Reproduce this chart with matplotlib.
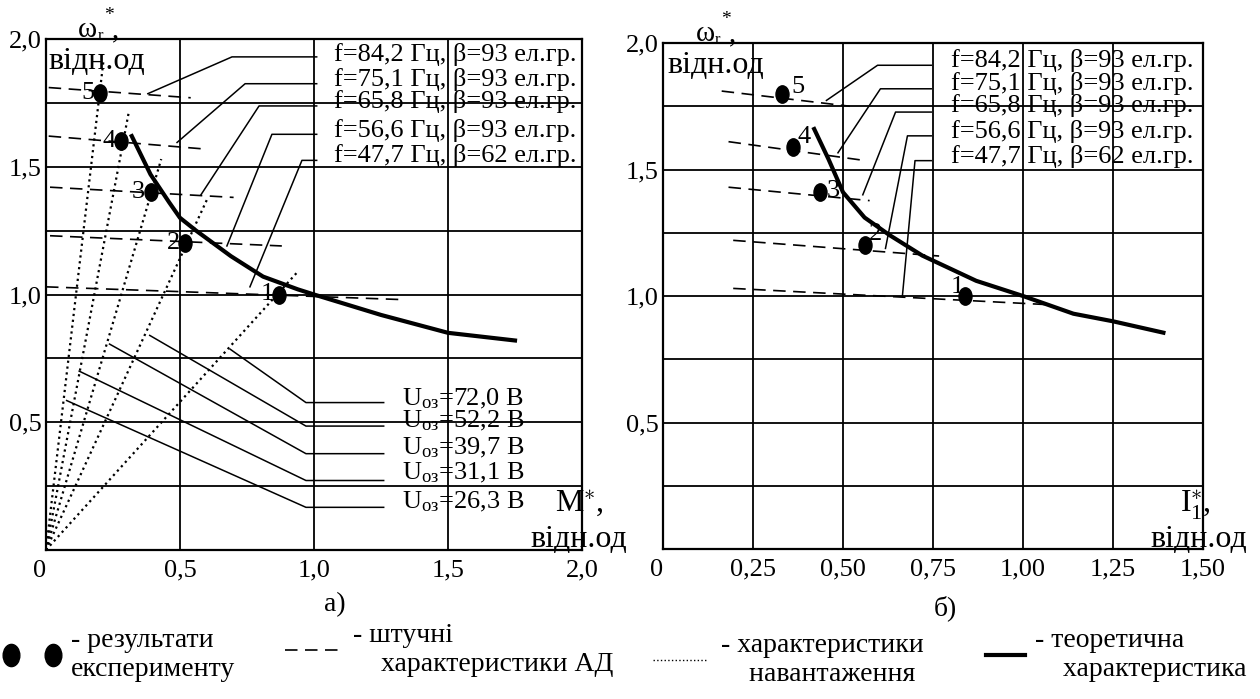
import numpy as np
import matplotlib
matplotlib.use("Agg")
import matplotlib.pyplot as plt
from matplotlib.path import Path
from matplotlib.lines import Line2D

plt.rcParams["font.family"] = ["Liberation Serif", "DejaVu Serif"]
plt.rcParams["mathtext.fontset"] = "custom"
plt.rcParams["mathtext.rm"] = "Liberation Serif"
plt.rcParams["mathtext.it"] = "Liberation Serif:italic"
plt.rcParams["font.size"] = 19

# ---- дані (рисунок а: M*, рисунок б: I1*) ----
point_ids = ["1", "2", "3", "4", "5"]

# експериментальні точки
m_exp = [0.87, 0.52, 0.39, 0.28, 0.20]
w_exp_a = [1.00, 1.20, 1.40, 1.60, 1.79]
i_exp = [0.84, 0.56, 0.435, 0.36, 0.33]
w_exp_b = [1.00, 1.20, 1.41, 1.59, 1.80]

# штучні характеристики АД (пунктир), початок і кінець
art_m_start = [0.00, 0.015, 0.015, 0.01, 0.01]
art_m_end = [1.33, 0.88, 0.70, 0.585, 0.54]
art_w_start_a = [1.03, 1.23, 1.42, 1.62, 1.81]
art_w_end_a = [0.98, 1.19, 1.38, 1.57, 1.77]

art_i_start = [0.195, 0.195, 0.182, 0.182, 0.163]
art_i_end = [1.08, 0.767, 0.574, 0.563, 0.519]
art_w_start_b = [1.03, 1.22, 1.43, 1.61, 1.81]
art_w_end_b = [0.965, 1.158, 1.377, 1.535, 1.75]

# характеристики навантаження (з початку координат)
load_m_end = [0.94, 0.60, 0.43, 0.31, 0.215]
load_w_end = [1.09, 1.37, 1.53, 1.72, 1.92]

# теоретичні характеристики
theory_m = [0.32, 0.39, 0.46, 0.50, 0.56, 0.69, 0.81, 0.94, 1.00, 1.25, 1.50, 1.75]
theory_w_a = [1.62, 1.47, 1.36, 1.30, 1.25, 1.15, 1.07, 1.02, 1.00, 0.92, 0.85, 0.82]
theory_i = [0.42, 0.46, 0.50, 0.56, 0.63, 0.72, 0.87, 1.00, 1.14, 1.25, 1.39]
theory_w_b = [1.66, 1.54, 1.41, 1.31, 1.24, 1.16, 1.06, 1.00, 0.93, 0.90, 0.855]

# підписи частоти (зверху вниз: лінії 5..1)
freq_labels = ["f=84,2 Гц, β=93 ел.гр.", "f=75,1 Гц, β=93 ел.гр.",
               "f=65,8 Гц, β=93 ел.гр.", "f=56,6 Гц, β=93 ел.гр.",
               "f=47,7 Гц, β=62 ел.гр."]
text_w_a = [1.94, 1.84, 1.755, 1.64, 1.545]
lead_w_a = [1.93, 1.825, 1.738, 1.627, 1.525]
lead_knee_m = [0.694, 0.743, 0.795, 0.843, 0.955]
lead_end_m = [0.38, 0.489, 0.578, 0.675, 0.761]
lead_end_w_a = [1.786, 1.595, 1.39, 1.19, 1.03]

text_w_b = [1.93, 1.84, 1.754, 1.65, 1.55]
lead_w_b = [1.912, 1.819, 1.727, 1.633, 1.535]
lead_knee_i = [0.596, 0.604, 0.646, 0.679, 0.70]
lead_end_i = [0.454, 0.486, 0.555, 0.618, 0.665]
lead_end_w_b = [1.773, 1.566, 1.40, 1.188, 1.00]

# напруга збудження (лінії навантаження 1..5)
u_values = ["72,0", "52,2", "39,7", "31,1", "26,3"]
u_text_w = [0.593, 0.504, 0.40, 0.30, 0.19]
u_lead_w = [0.577, 0.485, 0.377, 0.272, 0.167]
u_end_m = [0.687, 0.387, 0.237, 0.124, 0.077]
u_end_w = [0.786, 0.84, 0.806, 0.70, 0.585]

circ = Path.unit_circle()
dot = Path(circ.vertices * np.array([0.75, 1.0]), circ.codes)
DASH = (7.5, 4.5)
BIG = 23

fig = plt.figure(figsize=(12.6, 6.99), dpi=100)
ax_a = fig.add_axes([46 / 1260, 149 / 699, 536 / 1260, 511 / 699])
ax_b = fig.add_axes([663 / 1260, 150 / 699, 540 / 1260, 506 / 699])


def omega_label(ax, xfrac):
    # ω з індексом r і зірочкою над віссю
    anchor = dict(xy=(xfrac, 1.0), xycoords="axes fraction",
                  textcoords="offset points", annotation_clip=False)
    ax.annotate("ω", xytext=(0, -3), va="bottom", ha="left", fontsize=21, **anchor)
    ax.annotate("r", xytext=(14, -3.5), va="bottom", ha="left", fontsize=12, **anchor)
    ax.annotate("*", xytext=(18.5, 11), va="bottom", ha="left", fontsize=14, **anchor)
    ax.annotate(",", xytext=(24, -3), va="bottom", ha="left", fontsize=21, **anchor)


def setup(ax, xmax, xticks, xlabels):
    ax.set_xlim(0, xmax)
    ax.set_ylim(0, 2.0)
    ax.set_xticks(xticks, xlabels)
    ax.set_yticks(np.arange(0, 2.01, 0.25),
                  ["", "", "0,5", "", "1,0", "", "1,5", "", "2,0"])
    ax.grid(True, color="black", lw=1.3)
    ax.set_axisbelow(True)
    ax.tick_params(length=0, pad=3)
    ax.tick_params(axis="x", pad=7)
    ax.get_xticklabels()[0].set_ha("right")
    for s in ax.spines.values():
        s.set_linewidth(1.6)
    ax.text(0.011, 1.91, "відн.од", ha="left", va="center", fontsize=BIG)
    omega_label(ax, 0.06)


# ---- а) ----
setup(ax_a, 2.0, [0, 0.5, 1.0, 1.5, 2.0], ["0", "0,5", "1,0", "1,5", "2,0"])
for k in range(5):
    ax_a.plot([0, load_m_end[k]], [0, load_w_end[k]], ls=":", color="black", lw=1.6)
    ax_a.plot([art_m_start[k], art_m_end[k]], [art_w_start_a[k], art_w_end_a[k]],
              color="black", lw=1.2, dashes=DASH)
ax_a.plot(theory_m, theory_w_a, color="black", lw=3)
ax_a.plot(m_exp, w_exp_a, ls="none", marker=dot, ms=12.5, color="black")
for k in range(5):
    ax_a.annotate(point_ids[k], (m_exp[k], w_exp_a[k]), xytext=(-4, 0),
                  textcoords="offset points", ha="right", va="center")
for k in range(5):
    ax_a.plot([lead_end_m[k], lead_knee_m[k], 1.01],
              [lead_end_w_a[k], lead_w_a[k], lead_w_a[k]], color="black", lw=1.1)
    ax_a.text(1.075, text_w_a[k], freq_labels[k], ha="left", va="center")
for k in range(5):
    ax_a.plot([u_end_m[k], 0.97, 1.26], [u_end_w[k], u_lead_w[k], u_lead_w[k]],
              color="black", lw=1.1)
    ax_a.text(1.33, u_text_w[k], "U$_{\\mathrm{оз}}$=" + u_values[k] + " В",
              ha="left", va="center")
ax_a.text(0.95, 0.092, r"$\mathrm{M}^{\ast}$,", transform=ax_a.transAxes,
          ha="left", va="center", fontsize=BIG)
ax_a.text(0.903, 0.02, "відн.од", transform=ax_a.transAxes, ha="left", va="center",
          fontsize=BIG)

# ---- б) ----
setup(ax_b, 1.5, [0, 0.25, 0.5, 0.75, 1.0, 1.25, 1.5],
      ["0", "0,25", "0,50", "0,75", "1,00", "1,25", "1,50"])
for k in range(5):
    ax_b.plot([art_i_start[k], art_i_end[k]], [art_w_start_b[k], art_w_end_b[k]],
              color="black", lw=1.2, dashes=DASH)
ax_b.plot(theory_i, theory_w_b, color="black", lw=3)
ax_b.plot(i_exp, w_exp_b, ls="none", marker=dot, ms=12.5, color="black")
label_offsets_b = [(-6, 6.5), (8, 8), (10, 1), (8.5, 7), (11.5, 5)]
for k in range(5):
    ax_b.annotate(point_ids[k], (i_exp[k], w_exp_b[k]), xytext=label_offsets_b[k],
                  textcoords="offset points", ha="center", va="center")
for k in range(5):
    ax_b.plot([lead_end_i[k], lead_knee_i[k], 0.745],
              [lead_end_w_b[k], lead_w_b[k], lead_w_b[k]], color="black", lw=1.1)
    ax_b.text(0.80, text_w_b[k], freq_labels[k], ha="left", va="center")
ax_b.text(0.957, 0.087, r"$\mathrm{I}_{1}^{\ast}$,", transform=ax_b.transAxes,
          ha="left", va="center", fontsize=BIG)
ax_b.text(0.902, 0.018, "відн.од", transform=ax_b.transAxes, ha="left", va="center",
          fontsize=BIG)

fig.text(335 / 1260, 1 - 605 / 699, "а)", ha="center", va="center", fontsize=20)
fig.text(945 / 1260, 1 - 608 / 699, "б)", ha="center", va="center", fontsize=20)

# ---- умовні позначення ----
legend_items = [
    (Line2D([], [], ls="none", marker=dot, ms=16, color="black"),
     "- результати\nексперименту", 3, 655, 2.1, 0.35),
    (Line2D([], [], color="black", lw=1.2, dashes=DASH),
     "- штучні\n    характеристики АД", 277, 650, 2.7, 0.05),
    (Line2D([], [], color="black", lw=1.0, ls=":"),
     "- характеристики\n    навантаження", 645, 660, 2.5, 0.25),
    (Line2D([], [], color="black", lw=3),
     "- теоретична\n    характеристика", 978, 655, 2.0, 0.05),
]
for handle, label, px, py, hl, tp in legend_items:
    fig.legend([handle], [label], loc="center left",
               bbox_to_anchor=(px / 1260, 1 - py / 699), frameon=False,
               borderpad=0, borderaxespad=0, handlelength=hl, handletextpad=tp,
               numpoints=2, fontsize=20)

fig.savefig("out.png", dpi=100)
